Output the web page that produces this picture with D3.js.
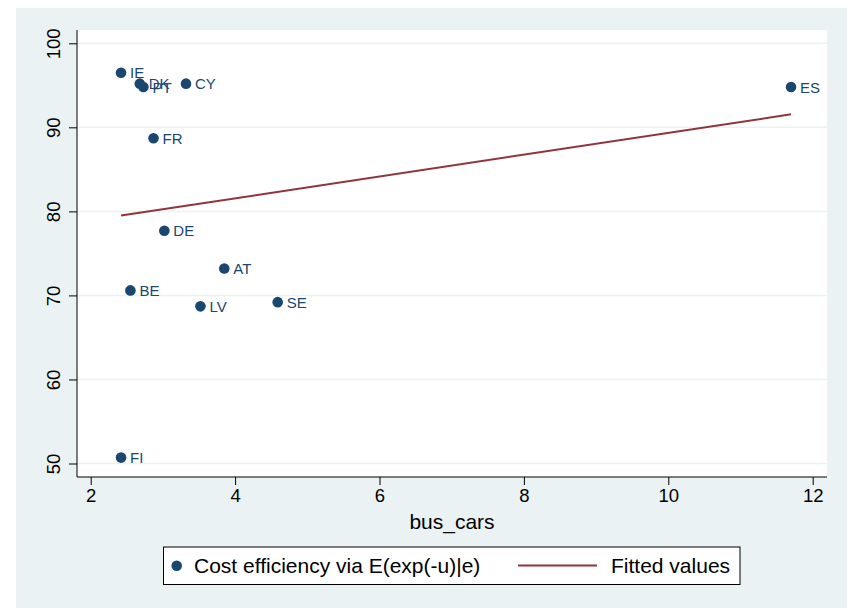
<!DOCTYPE html>
<html>
<head>
<meta charset="utf-8">
<script src="https://cdn.jsdelivr.net/npm/d3@7"></script>
<style>
  body { margin: 0; background: #ffffff; }
  text { font-family: "Liberation Sans", Arial, sans-serif; }
</style>
</head>
<body>
<div id="mydiv"></div>
<script>
const width = 847,
  height = 608;

// Data
const countries = ["IE", "DK", "PT", "CY", "FR", "DE", "AT", "BE", "LV", "SE", "FI", "ES"];
const busCars = [2.42, 2.68, 2.73, 3.32, 2.87, 3.02, 3.85, 2.55, 3.52, 4.59, 2.42, 11.7];
const efficiency = [96.5, 95.2, 94.8, 95.2, 88.7, 77.7, 73.2, 70.6, 68.7, 69.2, 50.7, 94.8];

// Fitted values line (end points)
const fitX = [2.42, 11.7];
const fitY = [79.5, 91.55];

const xTicks = [2, 4, 6, 8, 10, 12];
const yTicks = [50, 60, 70, 80, 90, 100];

const legendLabels = ["Cost efficiency via E(exp(-u)|e)", "Fitted values"];

const navy = "#1a476f",
  maroon = "#90353b",
  bluishGray = "#eaf2f3";

// Plot region
const plot = { left: 77, right: 827, top: 30, bottom: 477 };

let xScale = d3.scaleLinear().domain([2, 12]).range([90.7, 812.7]);
let yScale = d3.scaleLinear().domain([50, 100]).range([463.5, 43.3]);

let svg = d3
  .select("#mydiv")
  .append("svg")
  .attr("width", width)
  .attr("height", height);

//Background
svg
  .append("rect")
  .attr("x", 16)
  .attr("y", 8)
  .attr("width", width - 16)
  .attr("height", height - 8)
  .attr("fill", bluishGray);

svg
  .append("rect")
  .attr("x", plot.left)
  .attr("y", plot.top)
  .attr("width", plot.right - plot.left)
  .attr("height", plot.bottom - plot.top)
  .attr("fill", "#ffffff");

// Grid lines
svg
  .append("g")
  .selectAll("line")
  .data(yTicks)
  .enter()
  .append("line")
  .attr("x1", plot.left)
  .attr("x2", plot.right)
  .attr("y1", (d) => yScale(d))
  .attr("y2", (d) => yScale(d))
  .attr("stroke", bluishGray)
  .attr("stroke-width", 1.5);

// Y axis
let yAxis = d3.axisLeft(yScale).tickValues(yTicks).tickSize(8).tickPadding(9);
let yG = svg
  .append("g")
  .attr("class", "y-axis")
  .attr("transform", `translate(${plot.left},0)`)
  .call(yAxis);
yG.select(".domain").attr("d", `M0,${plot.top}V${plot.bottom}`).attr("stroke", "#000");
yG.selectAll(".tick line").attr("stroke", "#000");
yG.selectAll(".tick text")
  .attr("x", null)
  .attr("dy", null)
  .attr("transform", "translate(-17,0) rotate(-90)")
  .attr("text-anchor", "middle")
  .style("font-size", "18.5px")
  .style("font-family", '"Liberation Sans", Arial, sans-serif')
  .attr("fill", "#000");

// X axis
let xAxis = d3.axisBottom(xScale).tickValues(xTicks).tickSize(8).tickPadding(4);
let xG = svg
  .append("g")
  .attr("class", "x-axis")
  .attr("transform", `translate(0,${plot.bottom})`)
  .call(xAxis);
xG.select(".domain").attr("d", `M${plot.left},0H${plot.right}`).attr("stroke", "#000");
xG.selectAll(".tick line").attr("stroke", "#000");
xG.selectAll(".tick text")
  .style("font-size", "18.5px")
  .style("font-family", '"Liberation Sans", Arial, sans-serif')
  .attr("fill", "#000");

// Axis title
svg
  .append("text")
  .attr("x", (plot.left + plot.right) / 2)
  .attr("y", 529)
  .attr("text-anchor", "middle")
  .style("font-size", "21px")
  .text("bus_cars");

// Fitted line
let fitData = fitX.map((x, i) => ({ x: x, y: fitY[i] }));
let line = d3
  .line()
  .x((d) => xScale(d.x))
  .y((d) => yScale(d.y));
svg
  .append("path")
  .datum(fitData)
  .attr("d", line)
  .attr("fill", "none")
  .attr("stroke", maroon)
  .attr("stroke-width", 2);

// Points
let points = countries.map((c, i) => ({ name: c, x: busCars[i], y: efficiency[i] }));
let pts = svg.append("g").selectAll("g").data(points).enter().append("g");
pts
  .append("circle")
  .attr("cx", (d) => xScale(d.x))
  .attr("cy", (d) => yScale(d.y))
  .attr("r", 5.3)
  .attr("fill", navy);
pts
  .append("text")
  .attr("x", (d) => xScale(d.x) + 9)
  .attr("y", (d) => yScale(d.y) + 5.5)
  .style("font-size", "15px")
  .attr("fill", navy)
  .text((d) => d.name);

// Legend
let legend = svg.append("g");
legend
  .append("rect")
  .attr("x", 163.5)
  .attr("y", 547)
  .attr("width", 576.5)
  .attr("height", 37.5)
  .attr("fill", "#ffffff")
  .attr("stroke", "#000")
  .attr("stroke-width", 1);
legend
  .append("circle")
  .attr("cx", 176.7)
  .attr("cy", 565.7)
  .attr("r", 5.3)
  .attr("fill", navy);
legend
  .append("text")
  .attr("x", 194)
  .attr("y", 573)
  .style("font-size", "21px")
  .text(legendLabels[0]);
legend
  .append("line")
  .attr("x1", 518)
  .attr("x2", 597)
  .attr("y1", 565.5)
  .attr("y2", 565.5)
  .attr("stroke", maroon)
  .attr("stroke-width", 2);
legend
  .append("text")
  .attr("x", 611)
  .attr("y", 573)
  .style("font-size", "21px")
  .text(legendLabels[1]);
</script>
</body>
</html>
